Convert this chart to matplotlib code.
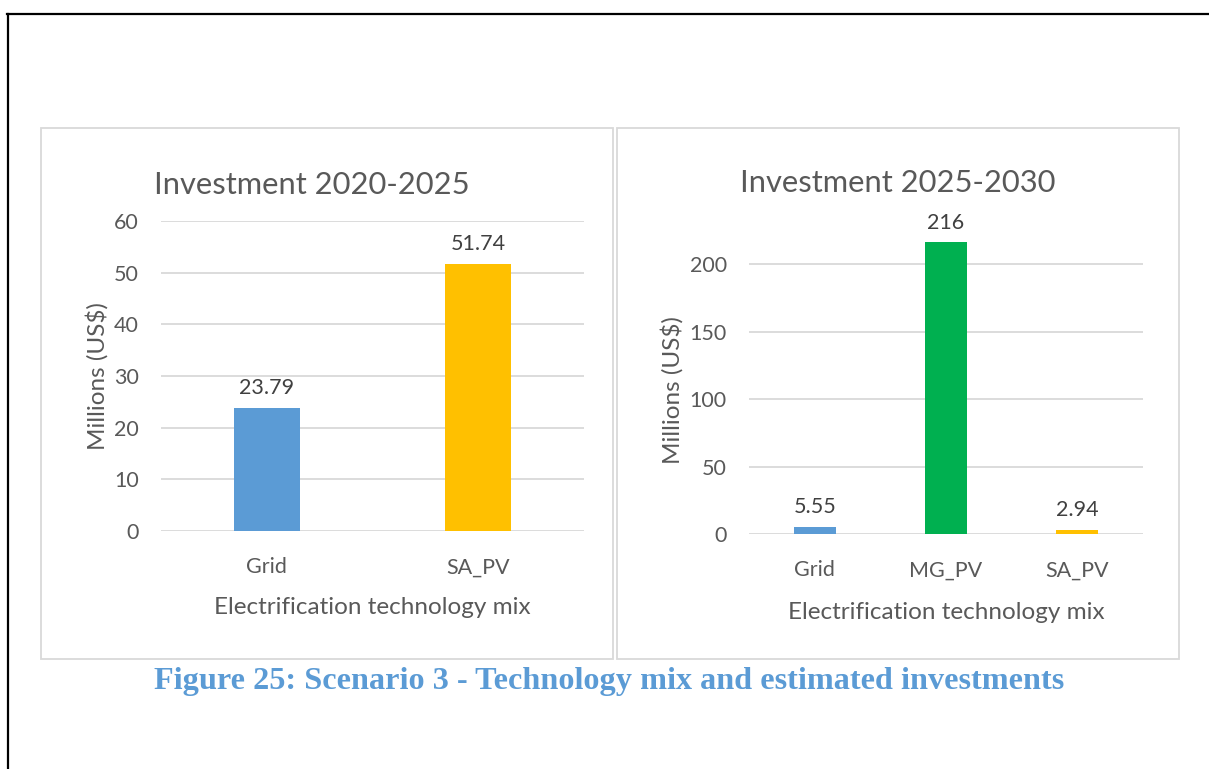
import matplotlib.pyplot as plt
from matplotlib.patches import Rectangle
from matplotlib.lines import Line2D

# data for the two panels
cats_2020 = ["Grid", "SA_PV"]
vals_2020 = [23.79, 51.74]
cols_2020 = ["#5B9BD5", "#FFC000"]

cats_2025 = ["Grid", "MG_PV", "SA_PV"]
vals_2025 = [5.55, 216, 2.94]
cols_2025 = ["#5B9BD5", "#00B050", "#FFC000"]
labels_2025 = ["5.55", "216", "2.94"]

ticks_2020 = [0, 10, 20, 30, 40, 50, 60]
ticks_2025 = [0, 50, 100, 150, 200]

TEXT = "#595959"
GRID = "#D9D9D9"
W, H = 1209, 769

plt.rcParams["font.family"] = ["Lato", "DejaVu Sans"]


def fx(px):
    return px / W


def fy(py):
    return 1 - py / H


def style_axis(ax, ticks, ylim, xlab_y, ylab_x, ylab_y):
    ax.set_ylim(*ylim)
    ax.set_yticks(ticks)
    ax.yaxis.grid(True, color=GRID, linewidth=1.3)
    ax.set_axisbelow(True)
    for s in ax.spines.values():
        s.set_visible(False)
    ax.tick_params(axis="both", length=0, labelsize=15.5, labelcolor=TEXT)
    ax.tick_params(axis="x", pad=19)
    ax.tick_params(axis="y", pad=16)
    ax.set_xlabel("Electrification technology mix", fontsize=17.5, color=TEXT)
    ax.xaxis.set_label_coords(0.5, xlab_y)
    ax.xaxis.label.set_verticalalignment("center")
    ax.set_ylabel("Millions (US$)", fontsize=17.5, color=TEXT)
    ax.yaxis.set_label_coords(ylab_x, ylab_y)
    ax.yaxis.label.set_verticalalignment("center")


fig = plt.figure(figsize=(W / 100, H / 100), dpi=100)

# page border lines (top and left)
fig.add_artist(Line2D([fx(7), 1], [fy(14), fy(14)], color="black", lw=1.6))
fig.add_artist(Line2D([fx(8), fx(8)], [fy(14), 0], color="black", lw=1.6))

# chart frames
fig.add_artist(Rectangle((fx(41), fy(659)), fx(613 - 41), (659 - 128) / H,
                         fill=False, edgecolor=GRID, lw=1.3))
fig.add_artist(Rectangle((fx(617), fy(659)), fx(1179 - 617), (659 - 128) / H,
                         fill=False, edgecolor=GRID, lw=1.3))

# left panel: 2020-2025
ax1 = fig.add_axes([fx(161), fy(531), fx(584 - 161), (531 - 221) / H])
bars1 = ax1.bar(cats_2020, vals_2020, width=0.31, color=cols_2020)
ax1.set_xlim(-0.5, len(cats_2020) - 0.5)
style_axis(ax1, ticks_2020, (0, 60), -0.248, -0.151, 0.5)
ax1.bar_label(bars1, labels=[f"{v:.2f}" for v in vals_2020], padding=7,
              fontsize=15.5, color="#404040")
fig.text(fx(312), fy(185), "Investment 2020-2025", ha="center", va="center",
         fontsize=22.2, color=TEXT)

# right panel: 2025-2030
ax2 = fig.add_axes([fx(749), fy(534), fx(1143 - 749), (534 - 228) / H])
bars2 = ax2.bar(cats_2025, vals_2025, width=0.32, color=cols_2025)
ax2.set_xlim(-0.5, len(cats_2025) - 0.5)
style_axis(ax2, ticks_2025, (0, 226.7), -0.255, -0.195, 0.47)
ax2.bar_label(bars2, labels=labels_2025, padding=7, fontsize=15.5, color="#404040")
fig.text(fx(898), fy(183), "Investment 2025-2030", ha="center", va="center",
         fontsize=22.2, color=TEXT)

# caption
fig.text(fx(609), fy(682), "Figure 25: Scenario 3 - Technology mix and estimated investments",
         ha="center", va="center", fontsize=23.2, fontweight="bold",
         color="#5B9BD5", family="Liberation Serif")

fig.savefig("out.png", dpi=100)
